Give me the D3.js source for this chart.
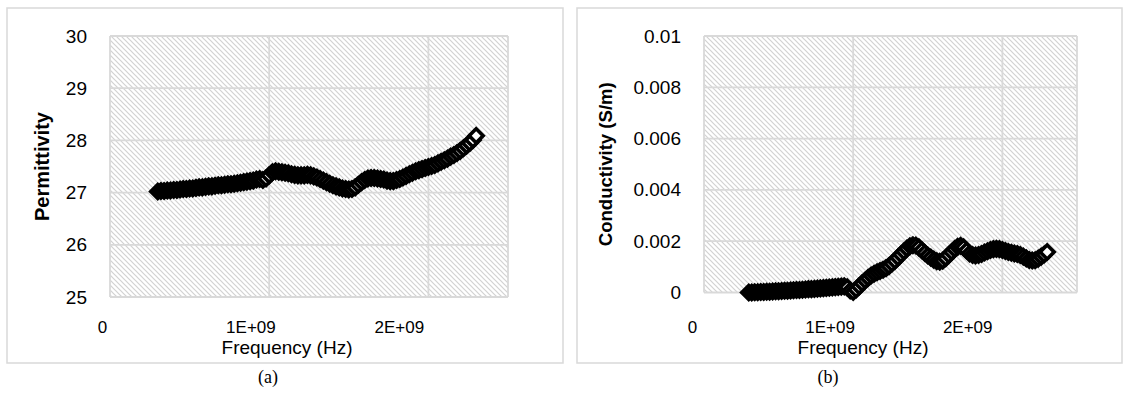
<!DOCTYPE html>
<html>
<head>
<meta charset="utf-8">
<script src="https://cdn.jsdelivr.net/npm/d3@7"></script>
<style>
  body { margin: 0; background: #fff; }
  svg { display: block; }
  .lbl { font-family: "Liberation Sans", Arial, sans-serif; fill: #000; }
  .cap { font-family: "Liberation Serif", "Times New Roman", serif; fill: #000; }
</style>
</head>
<body>
<svg id="fig" width="1128" height="399"></svg>
<script>
// Measured frequency sweep (GHz)
const frequencyGHz = [
  0.30,0.32,0.34,0.36,0.38,0.40,0.42,0.44,0.46,0.48,
  0.50,0.52,0.54,0.56,0.58,0.60,0.62,0.64,0.66,0.68,
  0.70,0.72,0.74,0.76,0.78,0.80,0.82,0.84,0.86,0.88,
  0.90,0.92,0.94,0.96,0.98,1.00,1.02,1.04,1.06,1.08,
  1.10,1.12,1.14,1.16,1.18,1.20,1.22,1.24,1.26,1.28,
  1.30,1.32,1.34,1.36,1.38,1.40,1.42,1.44,1.46,1.48,
  1.50,1.52,1.54,1.56,1.58,1.60,1.62,1.64,1.66,1.68,
  1.70,1.72,1.74,1.76,1.78,1.80,1.82,1.84,1.86,1.88,
  1.90,1.92,1.94,1.96,1.98,2.00,2.02,2.04,2.06,2.08,
  2.10,2.12,2.14,2.16,2.18,2.20,2.22,2.24,2.26,2.28,
  2.30
];

// Relative permittivity at each frequency
const permittivity = [
  27.02,27.03,27.03,27.04,27.04,27.05,27.05,27.06,27.07,27.07,
  27.08,27.08,27.09,27.10,27.10,27.11,27.12,27.12,27.13,27.14,
  27.14,27.15,27.16,27.16,27.17,27.18,27.19,27.20,27.21,27.22,
  27.23,27.25,27.26,27.24,27.27,27.33,27.39,27.41,27.40,27.39,
  27.38,27.37,27.35,27.34,27.33,27.33,27.33,27.34,27.33,27.31,
  27.29,27.26,27.23,27.20,27.17,27.14,27.12,27.10,27.08,27.07,
  27.06,27.07,27.10,27.15,27.20,27.24,27.27,27.28,27.28,27.27,
  27.26,27.25,27.23,27.22,27.22,27.24,27.26,27.29,27.32,27.35,
  27.38,27.41,27.43,27.45,27.47,27.49,27.51,27.53,27.56,27.59,
  27.62,27.65,27.69,27.72,27.76,27.80,27.85,27.90,27.95,28.01,
  28.09
];

// Conductivity (S/m) at each frequency
const conductivity = [
  0.00000,0.00000,0.00001,0.00001,0.00002,0.00002,0.00003,0.00003,0.00004,0.00005,
  0.00005,0.00006,0.00007,0.00007,0.00008,0.00009,0.00010,0.00010,0.00011,0.00012,
  0.00013,0.00013,0.00014,0.00015,0.00016,0.00017,0.00018,0.00019,0.00020,0.00021,
  0.00022,0.00023,0.00024,0.00020,0.00008,0.00002,0.00012,0.00024,0.00036,0.00047,
  0.00057,0.00066,0.00073,0.00079,0.00084,0.00089,0.00095,0.00103,0.00113,0.00124,
  0.00136,0.00148,0.00160,0.00171,0.00180,0.00184,0.00183,0.00176,0.00165,0.00154,
  0.00144,0.00136,0.00128,0.00122,0.00120,0.00124,0.00134,0.00146,0.00158,0.00169,
  0.00178,0.00182,0.00176,0.00164,0.00152,0.00146,0.00144,0.00146,0.00150,0.00156,
  0.00161,0.00166,0.00169,0.00170,0.00169,0.00166,0.00162,0.00158,0.00155,0.00152,
  0.00150,0.00146,0.00140,0.00133,0.00127,0.00125,0.00126,0.00132,0.00140,0.00148,
  0.00158
];

const frequencyTicks = [0, 1, 2];
const frequencyTickLabels = ["0", "1E+09", "2E+09"];
const permittivityTicks = [25, 26, 27, 28, 29, 30];
const conductivityTicks = [0, 0.002, 0.004, 0.006, 0.008, 0.01];

const panels = [
  {
    values: permittivity, yDomain: [25, 30], yTicks: permittivityTicks,
    yTitle: "Permittivity", yTitleSize: 20, yTitleLength: null, caption: "(a)",
    box: { x: 7, y: 8, w: 556, h: 355 },
    plot: { l: 110, r: 508, t: 36, b: 297 },
    xLabelRange: [102, 473], yTitleX: 42, xTitleX: 287, captionX: 268
  },
  {
    values: conductivity, yDomain: [0, 0.01], yTicks: conductivityTicks,
    yTitle: "Conductivity (S/m)", yTitleSize: 19, yTitleLength: 164, caption: "(b)",
    box: { x: 577, y: 8, w: 545, h: 355 },
    plot: { l: 704, r: 1077, t: 36, b: 292.5 },
    xLabelRange: [692, 1036], yTitleX: 605, xTitleX: 863, captionX: 828
  }
];

const svg = d3.select("#fig");
svg.append("rect").attr("width", 1128).attr("height", 399).attr("fill", "#fff");

// Diagonal hatch used as the plot-area fill
const defs = svg.append("defs");
const pat = defs.append("pattern")
  .attr("id", "hatch").attr("patternUnits", "userSpaceOnUse")
  .attr("width", 5).attr("height", 5);
pat.append("rect").attr("width", 5).attr("height", 5).attr("fill", "#fff");
pat.append("path")
  .attr("d", "M0,0L5,5M-1,4L1,6M4,-1L6,1")
  .attr("stroke", "#d2d2d2").attr("stroke-width", 1.2).attr("fill", "none");

const gridColor = "#d9d9d9";
const diamond = d3.symbol(d3.symbolSquare, 98);

panels.forEach(p => {
  const g = svg.append("g");
  const { l, r, t, b } = p.plot;

  // Chart frame
  g.append("rect")
    .attr("x", p.box.x).attr("y", p.box.y)
    .attr("width", p.box.w).attr("height", p.box.h)
    .attr("fill", "#fff").attr("stroke", gridColor).attr("stroke-width", 1.5);

  const x = d3.scaleLinear().domain([0, 2.5]).range([l, r]);
  const y = d3.scaleLinear().domain(p.yDomain).range([b, t]);
  const xLabel = d3.scaleLinear().domain([0, 2.5]).range(p.xLabelRange);

  // Plot area
  g.append("rect")
    .attr("x", l).attr("y", t).attr("width", r - l).attr("height", b - t)
    .attr("fill", "url(#hatch)");

  // Gridlines
  g.append("g").selectAll("line").data(p.yTicks).join("line")
    .attr("x1", l).attr("x2", r)
    .attr("y1", d => y(d)).attr("y2", d => y(d))
    .attr("stroke", gridColor).attr("stroke-width", 1.8);
  g.append("g").selectAll("line").data(frequencyTicks.concat([2.5])).join("line")
    .attr("x1", d => x(d)).attr("x2", d => x(d))
    .attr("y1", t).attr("y2", b)
    .attr("stroke", gridColor).attr("stroke-width", 1.8);

  // Y axis labels
  const yAxis = g.append("g").attr("transform", `translate(${l},0)`)
    .call(d3.axisLeft(y).tickValues(p.yTicks).tickSize(0).tickPadding(23)
      .tickFormat(d => String(d)));
  yAxis.select(".domain").remove();
  yAxis.selectAll("text").attr("class", "lbl").attr("font-size", 19)
    .attr("fill", "#000");

  // X axis labels
  const xAxis = g.append("g").attr("transform", `translate(0,${b})`)
    .call(d3.axisBottom(xLabel).tickValues(frequencyTicks).tickSize(0)
      .tickPadding(0).tickFormat((d, i) => frequencyTickLabels[i]));
  xAxis.select(".domain").remove();
  xAxis.selectAll("text").attr("class", "lbl").attr("font-size", 17)
    .attr("fill", "#000").attr("dy", null).attr("y", 333 - b);

  // Axis titles
  const yt = g.append("text").attr("class", "lbl")
    .attr("transform", `translate(${p.yTitleX},${(t + b) / 2}) rotate(-90)`)
    .attr("text-anchor", "middle").attr("dy", "0.35em")
    .attr("font-size", p.yTitleSize).attr("font-weight", "bold")
    .text(p.yTitle);
  if (p.yTitleLength) {
    yt.attr("textLength", p.yTitleLength).attr("lengthAdjust", "spacingAndGlyphs");
  }
  g.append("text").attr("class", "lbl")
    .attr("x", p.xTitleX).attr("y", 354)
    .attr("text-anchor", "middle").attr("font-size", 19)
    .text("Frequency (Hz)");

  // Caption below the frame
  g.append("text").attr("class", "cap")
    .attr("x", p.captionX).attr("y", 383)
    .attr("text-anchor", "middle").attr("font-size", 18)
    .text(p.caption);

  // Diamond markers, drawn in sweep order
  g.append("g").selectAll("path").data(frequencyGHz).join("path")
    .attr("d", diamond)
    .attr("transform", (d, i) => `translate(${x(d)},${y(p.values[i])}) rotate(45)`)
    .attr("fill", "#fff").attr("stroke", "#000").attr("stroke-width", 3.6);
});
</script>
</body>
</html>
